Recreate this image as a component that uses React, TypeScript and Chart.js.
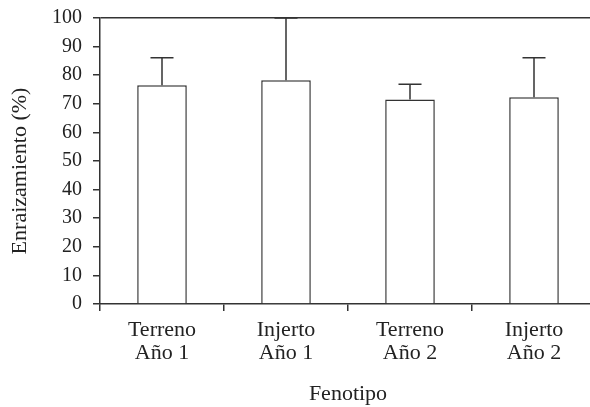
import React, { useEffect, useRef } from "react";
import { Chart, registerables } from "chart.js";

Chart.register(...registerables);

const categories: string[][] = [
  ["Terreno", "Año 1"],
  ["Injerto", "Año 1"],
  ["Terreno", "Año 2"],
  ["Injerto", "Año 2"],
];
const meanValues: number[] = [76.5, 78.2, 71.5, 72.3];
const errorValues: number[] = [9.6, 21.8, 5.3, 13.8];
const yTicks: number[] = [0, 10, 20, 30, 40, 50, 60, 70, 80, 90, 100];
const yTitle = "Enraizamiento (%)";
const xTitle = "Fenotipo";

const LINE = "#333333";
const TEXT = "#222222";
const FONT = "'Liberation Serif', 'Times New Roman', serif";

const errorBarPlugin = {
  id: "errorBars",
  afterDatasetsDraw(chart: any) {
    const meta = chart.getDatasetMeta(0);
    const yScale = chart.scales.y;
    const ctx = chart.ctx;
    ctx.save();
    ctx.strokeStyle = LINE;
    ctx.lineWidth = 1.5;
    meta.data.forEach((bar: any, i: number) => {
      const top = yScale.getPixelForValue(meanValues[i] + errorValues[i]);
      const base = yScale.getPixelForValue(meanValues[i]);
      ctx.beginPath();
      ctx.moveTo(bar.x, base);
      ctx.lineTo(bar.x, top);
      ctx.moveTo(bar.x - 11.5, top);
      ctx.lineTo(bar.x + 11.5, top);
      ctx.stroke();
    });
    ctx.restore();
  },
};

const yTitlePlugin = {
  id: "yTitle",
  afterDraw(chart: any) {
    const ctx = chart.ctx;
    const area = chart.chartArea;
    ctx.save();
    ctx.translate(20, (area.top + area.bottom) / 2 + 10);
    ctx.rotate(-Math.PI / 2);
    ctx.fillStyle = TEXT;
    ctx.font = `22px ${FONT}`;
    ctx.textAlign = "center";
    ctx.textBaseline = "middle";
    ctx.fillText(yTitle, 0, 0);
    ctx.restore();
  },
};

export default function App() {
  const ref = useRef<HTMLCanvasElement | null>(null);
  useEffect(() => {
    if (!ref.current) return;
    const chart = new Chart(ref.current, {
      type: "bar",
      data: {
        labels: categories,
        datasets: [
          {
            data: meanValues,
            backgroundColor: "#ffffff",
            borderColor: LINE,
            borderWidth: 1.5,
            barPercentage: 0.4,
            categoryPercentage: 1,
          },
        ],
      },
      options: {
        responsive: false,
        animation: false,
        devicePixelRatio: 1,
        layout: { padding: { top: 18, right: 4, left: 0, bottom: 0 } },
        plugins: {
          legend: { display: false },
          tooltip: { enabled: false },
        },
        scales: {
          x: {
            offset: true,
            afterFit: (s: any) => {
              s.height = 103;
              s.paddingLeft = 0;
              s.paddingRight = 0;
            },
            grid: {
              offset: true,
              drawOnChartArea: false,
              drawTicks: true,
              tickLength: 7,
              tickColor: LINE,
              lineWidth: 1.5,
            },
            border: { display: true, color: LINE, width: 1.5 },
            ticks: {
              color: TEXT,
              font: { family: FONT, size: 22, lineHeight: 1.05 },
              padding: 8,
              maxRotation: 0,
            },
            title: {
              display: true,
              text: xTitle,
              color: TEXT,
              font: { family: FONT, size: 22 },
              padding: { top: 0, bottom: 0 },
            },
          },
          y: {
            min: 0,
            max: 100,
            afterFit: (s: any) => {
              s.width = 100;
              s.paddingTop = 0;
              s.paddingBottom = 0;
            },
            afterBuildTicks: (s: any) => {
              s.ticks = yTicks.map((v) => ({ value: v }));
            },
            grid: {
              drawOnChartArea: true,
              drawTicks: true,
              tickLength: 7,
              tickColor: LINE,
              lineWidth: 1.5,
              color: (c: any) =>
                c.tick && c.tick.value === 100 ? LINE : "rgba(0,0,0,0)",
            },
            border: { display: true, color: LINE, width: 1.5 },
            ticks: {
              color: TEXT,
              font: { family: FONT, size: 20 },
              padding: 11,
            },
            title: { display: false },
          },
        },
      },
      plugins: [errorBarPlugin, yTitlePlugin],
    });
    return () => chart.destroy();
  }, []);
  return (
    <div
      style={{
        position: "fixed",
        left: 0,
        top: 0,
        width: 590,
        height: 407,
        overflow: "hidden",
        background: "#fff",
      }}
    >
      <canvas ref={ref} width={600} height={407} style={{ width: 600, height: 407, display: "block" }} />
    </div>
  );
}
